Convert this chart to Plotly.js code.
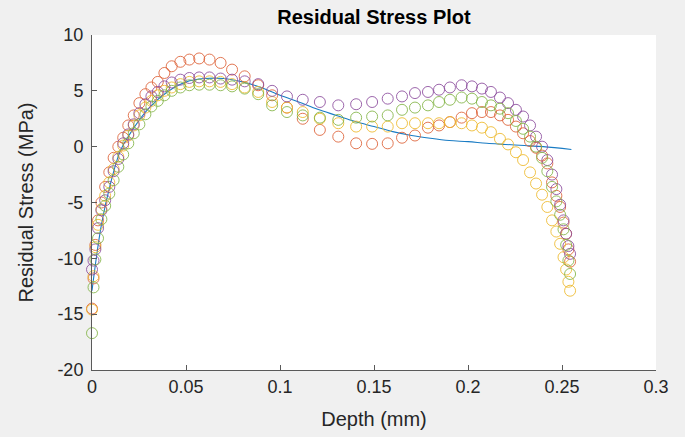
<!DOCTYPE html>
<html>
<head>
<meta charset="utf-8">
<script src="https://cdn.plot.ly/plotly-3.0.1.min.js"></script>
<style>
  html, body { margin: 0; padding: 0; background: #f0f0f0; }
  #chart { width: 685px; height: 437px; }
</style>
</head>
<body>
<div id="chart"></div>
<script>
// Depth values (mm) shared by the four measured series
const depth = [0, 0.0008, 0.0018, 0.0032, 0.0050, 0.0070, 0.0092, 0.0115, 0.0140, 0.0166,
  0.0193, 0.0222, 0.0252, 0.0284, 0.0316, 0.0350, 0.0385, 0.0424, 0.0470, 0.0518,
  0.0570, 0.0625, 0.0684, 0.0745, 0.0812, 0.0884, 0.0958, 0.1037, 0.1121, 0.1212,
  0.1310, 0.1405, 0.1490, 0.1573, 0.1649, 0.1718, 0.1787, 0.1846, 0.1904, 0.1966,
  0.2021, 0.2074, 0.2122, 0.2170, 0.2213, 0.2255, 0.2293, 0.2330, 0.2362, 0.2394,
  0.2422, 0.2447, 0.2470, 0.2490, 0.2508, 0.2522, 0.2534, 0.2543];

// Residual stress (MPa), series 1 (red)
const stressRed = [-14.5, -11.8, -8.8, -6.6, -5.0, -3.6, -2.3, -1.0, 0.0, 0.8,
  1.9, 2.8, 3.9, 4.7, 5.3, 5.8, 6.6, 7.2, 7.6, 7.8,
  7.9, 7.8, 7.5, 6.9, 6.3, 5.5, 4.6, 3.5, 2.5, 1.5,
  0.9, 0.3, 0.25, 0.3, 0.8, 1.0, 1.7, 1.9, 2.2, 2.6,
  3.0, 3.1, 3.1, 2.8, 2.4, 1.8, 1.2, 0.5, -0.1, -0.8,
  -1.5, -3.2, -4.4, -5.4, -6.8, -7.8, -9.2, -10.3];

// series 2 (yellow)
const stressYellow = [-14.6, -11.6, -9.0, -7.0, -5.6, -4.4, -3.2, -2.0, -0.9, 0.1,
  1.0, 1.9, 2.8, 3.5, 4.1, 4.6, 5.0, 5.3, 5.6, 5.8,
  5.85, 5.85, 5.8, 5.6, 5.3, 4.9, 4.0, 3.5, 3.1, 2.5,
  2.1, 1.8, 1.8, 1.8, 2.1, 2.1, 2.1, 2.1, 2.2, 2.1,
  1.9, 1.7, 1.3, 0.7, 0.2, -0.5, -1.2, -2.3, -3.3, -4.3,
  -5.4, -6.6, -7.6, -8.7, -9.9, -11.0, -12.1, -12.9];

// series 3 (purple)
const stressPurple = [-11.0, -10.2, -9.2, -7.3, -5.7, -4.8, -3.6, -2.2, -1.1, 0.3,
  1.1, 2.0, 3.0, 3.8, 4.5, 4.9, 5.4, 5.75, 6.0, 6.15,
  6.2, 6.2, 6.1, 6.0, 5.85, 5.6, 5.0, 4.5, 4.2, 4.0,
  3.7, 3.8, 4.0, 4.3, 4.5, 4.8, 4.9, 5.1, 5.3, 5.5,
  5.4, 5.2, 4.9, 4.4, 3.9, 3.3, 2.7, 1.9, 0.9, 0.0,
  -1.2, -2.5, -3.8, -5.2, -6.6, -7.8, -8.9, -9.6];

// series 4 (green)
const stressGreen = [-16.7, -12.6, -10.1, -8.2, -6.5, -5.3, -4.2, -3.0, -1.8, -0.7,
  0.3, 1.2, 2.0, 2.9, 3.6, 4.1, 4.6, 5.0, 5.3, 5.5,
  5.55, 5.55, 5.5, 5.4, 5.2, 4.7, 3.7, 3.1, 2.8, 2.6,
  2.4, 2.6, 2.7, 2.8, 3.3, 3.5, 3.7, 4.0, 4.2, 4.4,
  4.3, 4.0, 3.7, 3.4, 3.0, 2.3, 1.6, 0.9, 0.0, -1.0,
  -2.2, -3.6, -4.9, -6.1, -7.4, -8.8, -10.2, -11.4];

// Fitted curve (blue line)
const fitDepth = [0, 0.005, 0.01, 0.015, 0.02, 0.03, 0.04, 0.05, 0.06, 0.07, 0.08, 0.09,
  0.10, 0.11, 0.12, 0.13, 0.14, 0.15, 0.16, 0.17, 0.18, 0.19, 0.20, 0.21, 0.22, 0.23, 0.24, 0.255];
const fitStress = [-12.9, -7.0, -3.2, -0.4, 1.1, 3.4, 4.9, 5.8, 6.1, 6.1, 5.8, 5.3,
  4.6, 4.0, 3.35, 2.8, 2.25, 1.8, 1.35, 1.0, 0.75, 0.55, 0.45, 0.3, 0.2, 0.1, 0.0, -0.25];

// Tick labels
const xTickVals = [0, 0.05, 0.1, 0.15, 0.2, 0.25, 0.3];
const xTickText = ['0', '0.05', '0.1', '0.15', '0.2', '0.25', '0.3'];
const yTickVals = [-20, -15, -10, -5, 0, 5, 10];
const yTickText = ['-20', '-15', '-10', '-5', '0', '5', '10'];

const FONT = 'Liberation Sans, Arial, Helvetica, sans-serif';
const markerSeries = [
  {y: stressRed, color: '#DD6035'},
  {y: stressYellow, color: '#EDB829'},
  {y: stressPurple, color: '#8A4A9C'},
  {y: stressGreen, color: '#82B344'}
];

const traces = [{
  x: fitDepth, y: fitStress, type: 'scatter', mode: 'lines',
  line: {color: '#1A7CC4', width: 1.1, shape: 'spline'},
  hoverinfo: 'skip', cliponaxis: false
}];
markerSeries.forEach(s => traces.push({
  x: depth, y: s.y, type: 'scatter', mode: 'markers', cliponaxis: false,
  marker: {symbol: 'circle-open', size: 11, color: s.color, line: {width: 0.85, color: s.color}}
}));

const axisCommon = {
  ticks: 'inside', ticklen: 5, tickwidth: 1, tickcolor: '#5a5a5a',
  showline: true, linecolor: '#5a5a5a', linewidth: 1, mirror: false,
  showgrid: false, zeroline: false, fixedrange: true,
  tickfont: {family: FONT, size: 18, color: '#262626'}
};

const layout = {
  width: 685, height: 437,
  paper_bgcolor: '#f0f0f0', plot_bgcolor: '#ffffff',
  margin: {l: 92, r: 29, t: 35, b: 67},
  showlegend: false,
  font: {family: FONT, color: '#262626'},
  title: {
    text: '<b>Residual Stress Plot</b>',
    font: {family: FONT, size: 20, color: '#000000'},
    x: 0.5, xref: 'paper', xanchor: 'center',
    y: 1 - 17 / 437, yref: 'container', yanchor: 'middle'
  },
  xaxis: Object.assign({}, axisCommon, {
    range: [0, 0.3], tickvals: xTickVals, ticktext: xTickText,
    title: {text: 'Depth (mm)', font: {family: FONT, size: 20, color: '#262626'}, standoff: 16}
  }),
  yaxis: Object.assign({}, axisCommon, {
    range: [-20, 10], tickvals: yTickVals, ticktext: yTickText, ticklabelstandoff: 4,
    title: {text: 'Residual Stress (MPa)', font: {family: FONT, size: 20, color: '#262626'}, standoff: 18}
  })
};

Plotly.newPlot('chart', traces, layout, {staticPlot: true, displayModeBar: false});
</script>
</body>
</html>
